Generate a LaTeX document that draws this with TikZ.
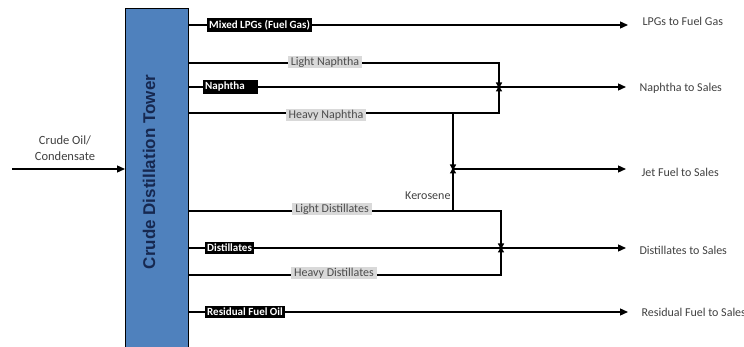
\documentclass[tikz,border=0pt]{standalone}
\usepackage{fontspec}
\setmainfont{Carlito}
\newfontfamily\towerfont{Liberation Sans}
\usetikzlibrary{arrows.meta}
\definecolor{towerblue}{RGB}{79,129,189}
\definecolor{towertext}{RGB}{22,40,80}
\definecolor{taggrey}{RGB}{217,217,217}
\tikzset{
	pipe/.style={line width=1.3pt},
	flow/.style={pipe, -{Triangle[length=8pt,width=7pt]}},
	merge/.style={pipe, -{Triangle[length=6pt,width=6pt]}},
	darktag/.style={fill=black, text=white, inner xsep=2pt, inner ysep=2pt, anchor=west, font=\bfseries\fontsize{11}{12}\selectfont},
	greytag/.style={fill=taggrey, text=black!70, inner xsep=3pt, inner ysep=1pt},
	outlabel/.style={anchor=west, text=black!75},
}

\begin{document}
\begin{tikzpicture}[x=1pt, y=-1pt, font=\fontsize{12}{14}\selectfont]
		\useasboundingbox (0,0) rectangle (744,347);
		%%%%% TOWER %%%%%
		\node[draw, line width=1pt, fill=towerblue, minimum width=63pt, minimum height=345pt, anchor=north west] (tower) at (125,8) {};
		\node[rotate=90, text=towertext, font=\towerfont\bfseries\fontsize{17}{20}\selectfont] (towerlbl) at (149,172) {Crude Distillation Tower};
		
		%%%%% FEED %%%%%
		\coordinate (feed) at (12,169);
		\draw[flow] (feed) -- (feed -| tower.west);
		\node[align=center, text=black!75, font=\fontsize{12.5}{16}\selectfont] (feedlbl) at (65,148) {Crude Oil/\\Condensate};
		
		%%%%% END POINTS %%%%%
		\coordinate (lpgout) at (628,25);
		\coordinate (naphout) at (626,87);
		\coordinate (jetout) at (626,169);
		\coordinate (distout) at (626,248);
		\coordinate (resout) at (628,312);
		
		%%%%% JUNCTIONS %%%%%
		\coordinate (lightnaph) at (499,63);
		\coordinate (heavynaph) at (499,113);
		\coordinate (kerotop) at (453,113);
		\coordinate (kerobot) at (453,211);
		\coordinate (jetstart) at (453,169);
		\coordinate (lightdist) at (501,211);
		\coordinate (heavydist) at (501,275);
		
		%%%%% STREAMS %%%%%
		\draw[flow] (tower.east |- lpgout) -- (lpgout);
		\draw[flow] (tower.east |- naphout) -- (naphout);
		\draw[merge] (tower.east |- lightnaph) -- (lightnaph) -- ([yshift=-1.5pt]lightnaph |- naphout);
		\draw[merge] (tower.east |- heavynaph) -- (heavynaph) -- ([yshift=1.5pt]heavynaph |- naphout);
		\draw[merge] (kerotop) -- ([yshift=-1.5pt]jetstart);
		\draw[merge] (kerobot) -- ([yshift=1.5pt]jetstart);
		\draw[flow] (jetstart) -- (jetout);
		\draw[flow] (tower.east |- distout) -- (distout);
		\draw[merge] (tower.east |- lightdist) -- (lightdist) -- ([yshift=-1.5pt]lightdist |- distout);
		\draw[merge] (tower.east |- heavydist) -- (heavydist) -- ([yshift=1.5pt]heavydist |- distout);
		\draw[flow] (tower.east |- resout) -- (resout);
		
		%%%%% TAGS %%%%%
		\node[darktag] (lpgtag) at (207,25) {Mixed LPGs (Fuel Gas)};
		\node[darktag, text width=51pt, align=left] (naphtag) at (203,87) {Naphtha};
		\node[darktag] (disttag) at (205,248) {Distillates};
		\node[darktag] (restag) at (205,312) {Residual Fuel Oil};
		\node[greytag] (lntag) at (325,62) {Light Naphtha};
		\node[greytag] (hntag) at (326,115) {Heavy Naphtha};
		\node[greytag] (ldtag) at (332,209) {Light Distillates};
		\node[greytag] (hdtag) at (334,273) {Heavy Distillates};
		\node[anchor=east, text=black!75] (kerolbl) at (454,196) {Kerosene};
		
		%%%%% PRODUCTS %%%%%
		\node[outlabel] (lpglbl) at (639,21) {LPGs to Fuel Gas};
		\node[outlabel] (naphlbl) at (636,88) {Naphtha to Sales};
		\node[outlabel] (jetlbl) at (638,172) {Jet Fuel to Sales};
		\node[outlabel] (distlbl) at (636,250) {Distillates to Sales};
		\node[outlabel] (reslbl) at (638,312) {Residual Fuel to Sales};
		%%%%% END %%%%%
	\end{tikzpicture}
\end{document}
